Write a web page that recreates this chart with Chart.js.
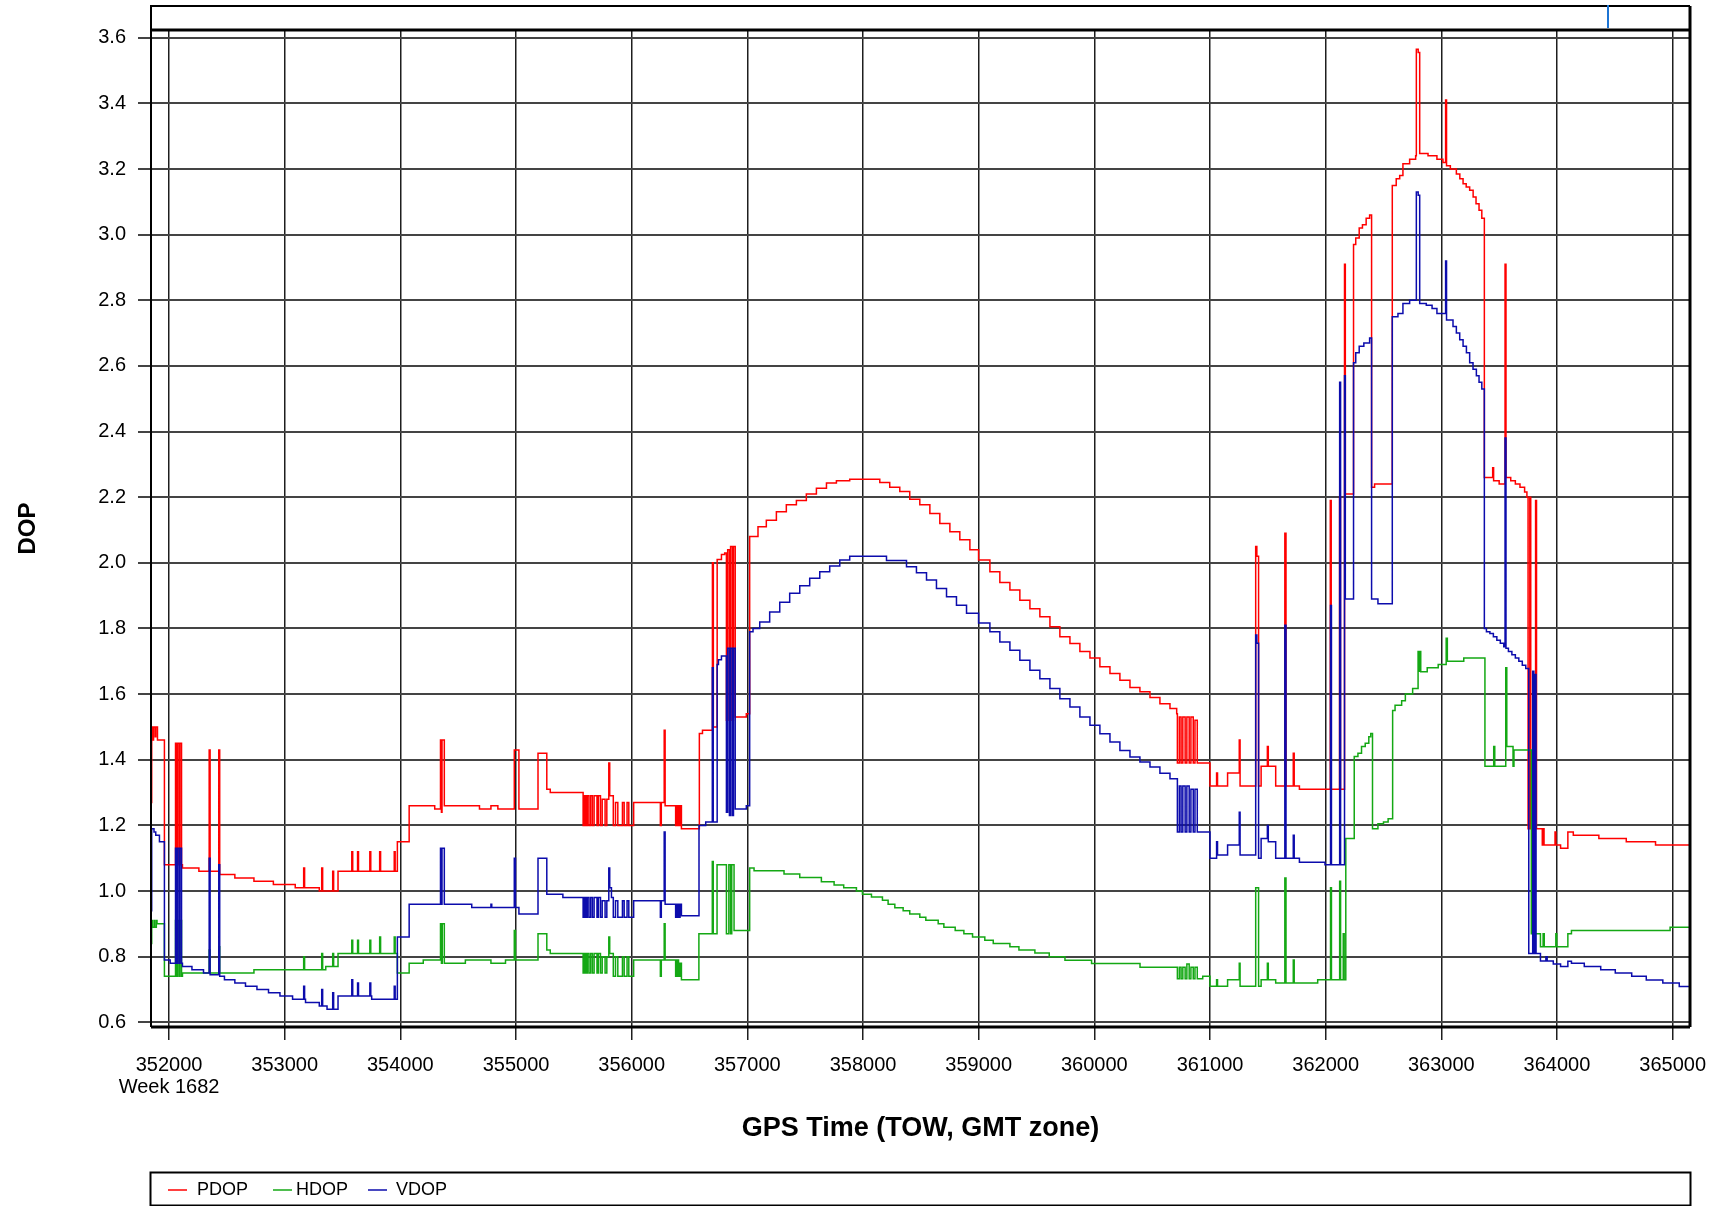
<!DOCTYPE html>
<html>
<head>
<meta charset="utf-8">
<script src="https://cdn.jsdelivr.net/npm/chart.js@4.4.1/dist/chart.umd.min.js"></script>
<style>
html, body { margin: 0; padding: 0; background: #fff; }
canvas { display: block; }
</style>
</head>
<body>
<canvas id="myChart" width="1722" height="1206"></canvas>
<script>
// GPS time of week (s) and DOP values
const pdopTime = [351845,351850,351860,351866,351880,351886,351900,351960,352056,352064,352072,352086,352094,352108,352116,352258,352347,352355,352430,352438,352569,352734,352902,353091,353164,353172,353299,353320,353328,353415,353423,353461,353580,353588,353630,353638,353736,353744,353821,353829,353947,353955,353974,354076,354297,354347,354355,354360,354380,354684,354783,354843,354985,355025,355190,355266,355296,355580,355592,355604,355616,355630,355645,355660,355675,355700,355712,355730,355745,355770,355785,355802,355810,355841,355860,355880,355920,355935,355960,355975,356017,356248,356256,356281,356289,356380,356392,356405,356418,356430,356585,356612,356698,356706,356739,356776,356804,356819,356830,356845,356855,356870,356880,356895,356991,357020,357092,357164,357251,357337,357424,357510,357597,357684,357770,357885,358145,358231,358318,358404,358491,358578,358664,358751,358837,358924,358999,359097,359183,359270,359356,359443,359529,359616,359702,359789,359875,359962,360048,360135,360221,360308,360394,360481,360567,360654,360712,360718,360735,360750,360765,360785,360800,360820,360835,360855,360870,360890,361000,361057,361065,361152,361253,361260,361395,361405,361420,361442,361496,361504,361568,361647,361657,361720,361728,361773,362040,362048,362120,362128,362163,362170,362241,362260,362290,362318,362350,362380,362397,362423,362576,362610,362640,362668,362726,362778,362784,362800,362813,362885,362962,363014,363037,363045,363078,363130,363160,363188,363215,363245,363275,363300,363326,363350,363372,363444,363452,363500,363551,363559,363600,363640,363680,363720,363740,363750,363765,363773,363815,363823,363873,363880,363888,363983,363990,364031,364094,364141,364362,364599,364852,365150];
const pdopValue = [1.27,1.50,1.46,1.50,1.47,1.50,1.46,1.08,1.45,1.08,1.45,1.08,1.45,1.08,1.07,1.06,1.43,1.06,1.43,1.05,1.04,1.03,1.02,1.01,1.07,1.01,1.00,1.07,1.00,1.06,1.00,1.06,1.12,1.06,1.12,1.06,1.12,1.06,1.12,1.06,1.12,1.06,1.15,1.26,1.25,1.46,1.24,1.46,1.26,1.25,1.26,1.25,1.43,1.25,1.42,1.31,1.30,1.20,1.29,1.20,1.29,1.20,1.29,1.20,1.29,1.20,1.29,1.20,1.28,1.20,1.28,1.39,1.29,1.20,1.27,1.20,1.27,1.20,1.27,1.20,1.27,1.20,1.27,1.49,1.26,1.20,1.26,1.20,1.26,1.19,1.48,1.49,2.00,1.50,2.01,2.025,2.03,1.52,2.04,1.52,2.05,1.52,2.05,1.53,1.54,2.08,2.11,2.13,2.156,2.177,2.19,2.21,2.227,2.243,2.25,2.255,2.245,2.23,2.217,2.194,2.177,2.15,2.12,2.095,2.07,2.04,2.009,1.973,1.94,1.917,1.886,1.86,1.836,1.805,1.775,1.754,1.73,1.71,1.683,1.663,1.642,1.62,1.607,1.59,1.571,1.556,1.54,1.39,1.53,1.39,1.53,1.39,1.53,1.39,1.53,1.39,1.52,1.39,1.32,1.36,1.32,1.36,1.46,1.32,2.05,2.02,1.32,1.38,1.44,1.38,1.32,2.09,1.32,1.42,1.32,1.31,2.19,1.31,2.20,1.31,2.91,2.21,2.97,2.99,3.02,3.03,3.05,3.06,2.23,2.24,3.15,3.17,3.18,3.216,3.23,3.24,3.565,3.555,3.247,3.24,3.23,3.22,3.41,3.21,3.20,3.185,3.17,3.155,3.145,3.135,3.115,3.094,3.074,3.05,2.26,2.29,2.25,2.24,2.91,2.26,2.25,2.24,2.23,2.216,2.20,1.19,2.20,1.19,2.19,1.19,1.14,1.19,1.14,1.18,1.14,1.13,1.18,1.17,1.16,1.15,1.14,1.14];

const hdopTime = [351845,351850,351855,351870,351876,351890,351896,351960,352056,352064,352072,352086,352094,352108,352116,352347,352355,352430,352438,352734,353164,353172,353320,353328,353355,353415,353423,353461,353580,353588,353630,353638,353736,353744,353821,353829,353947,353955,353974,354076,354198,354347,354355,354362,354380,354562,354783,354909,354985,354995,355190,355266,355296,355580,355592,355604,355616,355630,355645,355660,355675,355700,355712,355730,355745,355770,355785,355802,355810,355841,355860,355880,355920,355935,355960,355975,356017,356248,356256,356281,356289,356380,356392,356405,356418,356430,356581,356697,356705,356738,356819,356840,356855,356865,356885,357020,357058,357317,357453,357640,357750,357833,357943,357995,358073,358168,358217,358275,358347,358404,358491,358543,358650,358699,358797,358872,358947,359053,359126,359270,359348,359486,359610,359746,359976,360395,360718,360735,360750,360765,360785,360800,360820,360835,360855,360870,360890,360937,361000,361057,361065,361152,361253,361260,361395,361420,361442,361496,361504,361568,361647,361657,361720,361728,361931,362042,362050,362121,362129,362152,362160,362174,362247,362279,362310,362342,362373,362390,362405,362452,362500,362540,362579,362600,362657,362689,362752,362799,362805,362810,362822,362878,362973,363042,363052,363194,363377,363453,363462,363557,363566,363620,363628,363778,363857,363880,363890,363990,363998,364094,364125,364978,365150];
const hdopValue = [0.84,0.91,0.89,0.91,0.89,0.91,0.90,0.74,0.91,0.74,0.91,0.74,0.91,0.74,0.75,0.82,0.75,0.83,0.75,0.76,0.80,0.76,0.81,0.76,0.77,0.81,0.77,0.81,0.85,0.81,0.85,0.81,0.85,0.81,0.86,0.81,0.86,0.81,0.75,0.78,0.79,0.90,0.78,0.90,0.78,0.79,0.78,0.79,0.88,0.79,0.87,0.82,0.81,0.75,0.81,0.75,0.81,0.75,0.81,0.75,0.81,0.75,0.81,0.75,0.80,0.75,0.80,0.86,0.81,0.74,0.80,0.74,0.80,0.74,0.80,0.74,0.79,0.74,0.79,0.90,0.79,0.74,0.79,0.74,0.78,0.73,0.87,1.09,0.87,1.08,0.87,1.08,0.87,1.08,0.88,1.07,1.062,1.052,1.041,1.028,1.018,1.01,1.00,0.99,0.982,0.972,0.96,0.949,0.94,0.93,0.92,0.911,0.90,0.89,0.88,0.87,0.86,0.85,0.84,0.83,0.82,0.811,0.80,0.789,0.779,0.768,0.733,0.768,0.733,0.768,0.733,0.778,0.733,0.768,0.733,0.768,0.733,0.74,0.71,0.73,0.71,0.73,0.78,0.71,1.01,0.71,0.73,0.78,0.73,0.72,1.04,0.72,0.79,0.72,0.73,1.01,0.73,1.03,0.73,0.87,0.73,1.16,1.41,1.42,1.44,1.45,1.47,1.48,1.19,1.205,1.21,1.22,1.55,1.566,1.58,1.60,1.617,1.73,1.67,1.73,1.668,1.68,1.69,1.77,1.70,1.71,1.38,1.44,1.38,1.68,1.44,1.38,1.43,0.87,0.83,0.87,0.83,0.87,0.83,0.87,0.88,0.89,0.89];

const vdopTime = [351845,351850,351870,351885,351917,351960,352010,352056,352064,352072,352086,352094,352108,352116,352198,352298,352347,352355,352430,352438,352479,352569,352661,352760,352860,352959,353068,353164,353172,353180,353299,353320,353328,353366,353415,353423,353461,353580,353588,353630,353638,353736,353744,353752,353947,353955,353974,354076,354347,354355,354360,354380,354617,354783,354790,354985,354995,355025,355190,355266,355405,355580,355592,355604,355616,355630,355645,355660,355675,355700,355712,355730,355745,355770,355785,355802,355810,355825,355841,355860,355880,355920,355935,355960,355975,356017,356248,356256,356281,356289,356380,356392,356405,356418,356430,356582,356640,356697,356705,356739,356750,356776,356819,356830,356845,356855,356870,356880,356895,356991,357020,357049,357107,357193,357280,357366,357453,357539,357626,357712,357799,357885,358203,358376,358462,358549,358635,358722,358808,358895,358999,359097,359183,359270,359356,359443,359529,359616,359702,359789,359875,359962,360048,360135,360221,360308,360394,360481,360567,360654,360718,360735,360750,360765,360785,360800,360820,360835,360855,360870,360890,361000,361057,361065,361152,361253,361260,361395,361405,361420,361442,361496,361504,361568,361647,361657,361720,361728,361773,361994,362042,362050,362121,362129,362163,362170,362241,362260,362290,362330,362380,362397,362452,362576,362625,362668,362726,362784,362800,362813,362870,362920,362962,363037,363045,363101,363130,363159,363188,363217,363245,363274,363303,363326,363350,363372,363390,363420,363450,363480,363510,363540,363551,363559,363580,363610,363640,363670,363700,363730,363756,363790,363800,363812,363819,363857,363904,363915,363968,364031,364094,364125,364236,364378,364504,364646,364772,364915,365057,365150];
const vdopValue = [0.94,1.19,1.18,1.17,1.15,0.79,0.78,1.13,0.78,1.13,0.78,1.13,0.78,0.77,0.76,0.75,1.10,0.745,1.08,0.74,0.73,0.72,0.71,0.70,0.69,0.68,0.67,0.71,0.67,0.66,0.65,0.70,0.65,0.64,0.69,0.64,0.68,0.73,0.68,0.72,0.68,0.72,0.68,0.67,0.71,0.67,0.86,0.96,1.13,0.96,1.13,0.96,0.95,0.96,0.95,1.10,0.95,0.93,1.10,0.99,0.98,0.92,0.98,0.92,0.98,0.92,0.98,0.92,0.98,0.92,0.98,0.92,0.97,0.92,0.97,1.07,1.01,0.98,0.92,0.97,0.92,0.97,0.92,0.97,0.92,0.97,0.92,0.97,1.18,0.96,0.92,0.96,0.92,0.96,0.925,1.20,1.21,1.68,1.21,1.69,1.705,1.716,1.24,1.74,1.23,1.74,1.23,1.74,1.25,1.26,1.79,1.80,1.82,1.85,1.88,1.907,1.93,1.953,1.973,1.99,2.009,2.02,2.007,1.988,1.97,1.948,1.922,1.897,1.871,1.846,1.817,1.79,1.759,1.734,1.703,1.673,1.647,1.617,1.586,1.561,1.53,1.505,1.479,1.454,1.428,1.408,1.393,1.378,1.359,1.342,1.18,1.32,1.18,1.32,1.18,1.32,1.18,1.31,1.18,1.31,1.18,1.10,1.15,1.11,1.14,1.24,1.11,1.78,1.755,1.10,1.16,1.20,1.15,1.10,1.81,1.10,1.17,1.10,1.088,1.08,1.87,1.08,2.55,1.08,2.57,1.89,2.61,2.64,2.66,2.67,2.685,1.89,1.875,2.75,2.76,2.79,2.80,3.13,3.12,2.79,2.785,2.775,2.76,2.92,2.74,2.72,2.70,2.68,2.66,2.64,2.61,2.59,2.57,2.55,2.53,1.80,1.79,1.785,1.775,1.764,1.755,1.744,2.38,1.74,1.73,1.72,1.71,1.70,1.688,1.678,0.81,1.67,0.81,1.66,0.81,0.787,0.80,0.787,0.778,0.77,0.786,0.78,0.77,0.76,0.75,0.74,0.729,0.72,0.709,0.709];

const seriesNames = ['PDOP', 'HDOP', 'VDOP'];
const seriesColors = ['#ff0000', '#14a814', '#0c0cac'];
const xTicks = [352000, 353000, 354000, 355000, 356000, 357000, 358000, 359000, 360000, 361000, 362000, 363000, 364000, 365000];
const yTicks = [0.6, 0.8, 1.0, 1.2, 1.4, 1.6, 1.8, 2.0, 2.2, 2.4, 2.6, 2.8, 3.0, 3.2, 3.4, 3.6];
const weekLabel = 'Week 1682';

function toPoints(times, values) {
  return times.map(function (t, i) { return { x: t, y: values[i] }; });
}

Chart.defaults.font.family = "'Liberation Sans', Arial, sans-serif";
Chart.defaults.color = '#000';

// frame, top strip and boxed legend like the original plot
const framePlugin = {
  id: 'frame',
  beforeDraw(chart) {
    const ctx = chart.ctx;
    ctx.save();
    ctx.fillStyle = '#fff';
    ctx.fillRect(0, 0, chart.width, chart.height);
    ctx.restore();
  },
  afterDatasetsDraw(chart) {
    const a = chart.chartArea;
    const ctx = chart.ctx;
    ctx.save();
    ctx.strokeStyle = '#000';
    ctx.lineWidth = 2;
    ctx.beginPath();
    ctx.moveTo(a.left, a.top); ctx.lineTo(a.left, a.bottom);
    ctx.stroke();
    ctx.lineWidth = 3;
    ctx.beginPath();
    ctx.moveTo(a.left, a.top); ctx.lineTo(a.right, a.top);
    ctx.moveTo(a.left, a.bottom); ctx.lineTo(a.right, a.bottom);
    ctx.moveTo(a.right, a.top - 24); ctx.lineTo(a.right, a.bottom);
    ctx.stroke();
    // top strip
    ctx.lineWidth = 2;
    ctx.beginPath();
    ctx.moveTo(a.left, a.top); ctx.lineTo(a.left, a.top - 24);
    ctx.lineTo(a.right, a.top - 24);
    ctx.stroke();
    ctx.strokeStyle = '#1c74d4';
    ctx.beginPath();
    ctx.moveTo(1608, a.top - 25); ctx.lineTo(1608, a.top - 2);
    ctx.stroke();
    // legend
    ctx.strokeStyle = '#000';
    ctx.lineWidth = 2;
    ctx.strokeRect(150.5, 1172.5, 1540, 33);
    ctx.font = "18px 'Liberation Sans', Arial, sans-serif";
    ctx.textBaseline = 'middle';
    ctx.fillStyle = '#000';
    const lineX = [168, 273, 368];
    const textX = [197, 296, 396];
    chart.data.datasets.forEach(function (ds, i) {
      ctx.strokeStyle = ds.borderColor;
      ctx.lineWidth = 1.5;
      ctx.beginPath();
      ctx.moveTo(lineX[i], 1190); ctx.lineTo(lineX[i] + 19, 1190);
      ctx.stroke();
      ctx.fillText(ds.label, textX[i], 1190);
    });
    ctx.restore();
  }
};

new Chart(document.getElementById('myChart'), {
  type: 'line',
  data: {
    datasets: [
      { label: seriesNames[0], data: toPoints(pdopTime, pdopValue), borderColor: seriesColors[0], order: 3 },
      { label: seriesNames[1], data: toPoints(hdopTime, hdopValue), borderColor: seriesColors[1], order: 2 },
      { label: seriesNames[2], data: toPoints(vdopTime, vdopValue), borderColor: seriesColors[2], order: 1 }
    ]
  },
  options: {
    responsive: false,
    animation: false,
    parsing: false,
    layout: { padding: { left: 0, top: 30, right: 32, bottom: 60 } },
    elements: {
      line: { stepped: true, borderWidth: 1.5, fill: false, tension: 0 },
      point: { radius: 0, hoverRadius: 0 }
    },
    plugins: {
      legend: { display: false },
      tooltip: { enabled: false }
    },
    scales: {
      x: {
        type: 'linear',
        min: 351844,
        max: 365150,
        afterFit: function (s) { s.height = 119; },
        afterBuildTicks: function (s) {
          s.ticks = xTicks.map(function (v) { return { value: v }; });
        },
        ticks: {
          autoSkip: false,
          maxRotation: 0,
          padding: 14,
          color: '#000',
          font: { size: 20, lineHeight: 1.1 },
          callback: function (v) { return v === xTicks[0] ? [String(v), weekLabel] : String(v); }
        },
        grid: { color: '#1e1e1e', lineWidth: 1.5, tickLength: 13 },
        border: { display: false },
        title: {
          display: true,
          text: 'GPS Time (TOW, GMT zone)',
          color: '#000',
          font: { size: 27, weight: 'bold' },
          padding: { top: 4, bottom: 1 }
        }
      },
      y: {
        min: 0.5857,
        max: 3.6235,
        afterFit: function (s) { s.width = 151; },
        afterBuildTicks: function (s) {
          s.ticks = yTicks.map(function (v) { return { value: v }; });
        },
        ticks: {
          autoSkip: false,
          padding: 12,
          color: '#000',
          font: { size: 20 },
          callback: function (v) { return Number(v).toFixed(1); }
        },
        grid: { color: '#444', lineWidth: 2, tickLength: 13 },
        border: { display: false },
        title: {
          display: true,
          text: 'DOP',
          color: '#000',
          font: { size: 24, weight: 'bold' },
          padding: { top: 14, bottom: 4 }
        }
      }
    }
  },
  plugins: [framePlugin]
});
</script>
</body>
</html>
